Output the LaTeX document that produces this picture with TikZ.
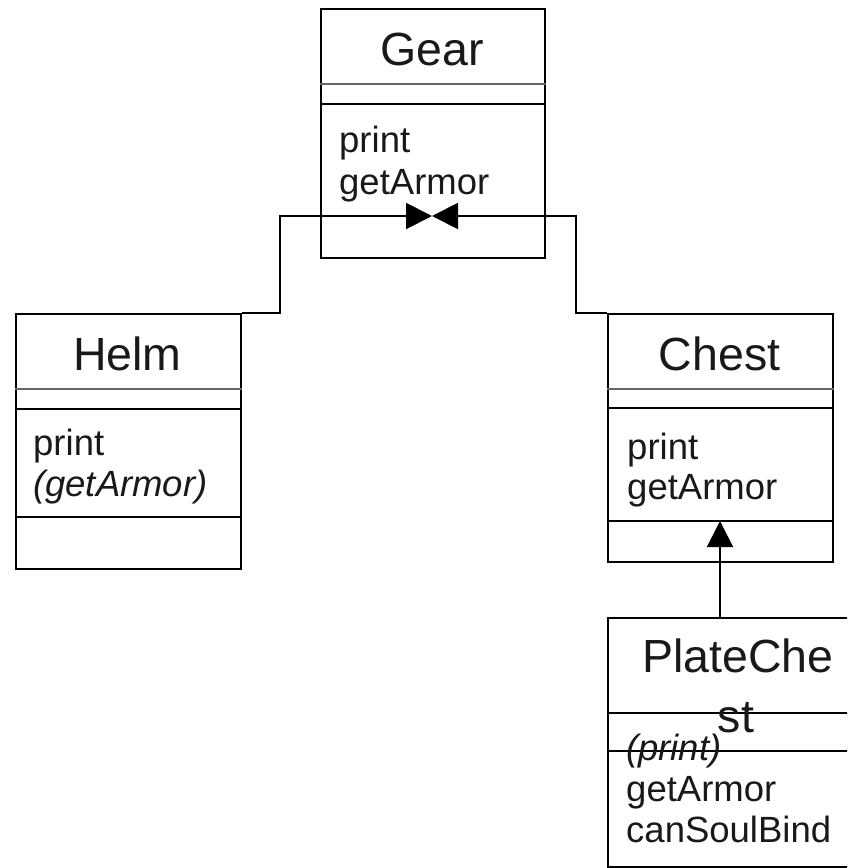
\documentclass[tikz,border=0pt]{standalone}
\usepackage{fontspec}
\setmainfont{Liberation Sans}
\usetikzlibrary{arrows.meta,calc}
\begin{document}
\begin{tikzpicture}[x=1pt,y=-1pt,
  classbox/.style={draw=black,line width=2pt,inner sep=0pt,anchor=north west},
  sepline/.style={draw=black!60,line width=1.6pt},
  divline/.style={draw=black,line width=2pt},
  title/.style={inner sep=0pt,anchor=base,font=\fontsize{46.5}{54}\selectfont,text=black!90},
  member/.style={inner sep=0pt,anchor=base west,font=\fontsize{36.5}{42}\selectfont,text=black!90},
  link/.style={draw=black,line width=2pt},
  tip/.style={-{Triangle[length=26pt,width=26pt]}}]
\useasboundingbox (0,0) rectangle (847,868);
\begin{scope}
\clip (0,0) rectangle (847,868);

% ---- Gear ----
\node[classbox,minimum width=224pt,minimum height=249pt] (gear) at (320,8) {};
\draw[sepline] ($(gear.north west)+(0,76)$) -- ($(gear.north east)+(0,76)$);
\draw[divline] ($(gear.north west)+(0,96)$) -- ($(gear.north east)+(0,96)$);
\node[title] (gearname) at (432,65) {Gear};
\node[member] (gearm1) at (339,152) {print};
\node[member] (gearm2) at (339,194) {getArmor};

% ---- Helm ----
\node[classbox,minimum width=225pt,minimum height=255pt] (helm) at (15,313) {};
\draw[sepline] ($(helm.north west)+(0,76)$) -- ($(helm.north east)+(0,76)$);
\draw[divline] ($(helm.north west)+(0,96)$) -- ($(helm.north east)+(0,96)$);
\draw[divline] ($(helm.north west)+(0,204)$) -- ($(helm.north east)+(0,204)$);
\node[title] (helmname) at (127.5,370) {Helm};
\node[member] (helmm1) at (33,455) {print};
\node[member] (helmm2) at (33,496) {\itshape(getArmor)};

% ---- Chest ----
\node[classbox,minimum width=225pt,minimum height=248pt] (chest) at (607,313) {};
\draw[sepline] ($(chest.north west)+(0,76)$) -- ($(chest.north east)+(0,76)$);
\draw[divline] ($(chest.north west)+(0,95)$) -- ($(chest.north east)+(0,95)$);
\draw[divline] ($(chest.north west)+(0,208)$) -- ($(chest.north east)+(0,208)$);
\node[title] (chestname) at (719.5,370) {Chest};
\node[member] (chestm1) at (627,459) {print};
\node[member] (chestm2) at (627,499) {getArmor};

% ---- PlateChest ----
\node[classbox,minimum width=262pt,minimum height=249pt] (plate) at (607,617) {};
\draw[divline] ($(plate.north west)+(0,96)$) -- ($(plate.north east)+(0,96)$);
\draw[divline] ($(plate.north west)+(0,134)$) -- ($(plate.north east)+(0,134)$);
\node[title] (platename1) at (738,672) {PlateChe};
\node[title] (platename2) at (736,732) {st};
\node[member] (platem1) at (626,760) {\itshape(print)};
\node[member] (platem2) at (626,801) {getArmor};
\node[member] (platem3) at (626,842) {canSoulBind};

% ---- connectors ----
\coordinate (gearjoin) at (432,216);
\coordinate (helmbend) at (280,313);
\coordinate (chestbend) at (576,313);
\draw[link,tip] (helm.north east) -- (helmbend) |- (gearjoin);
\draw[link,tip] (chest.north west) -- (chestbend) |- (gearjoin);

\coordinate (chesttip) at (720,521);
\coordinate (platetop) at (720,617);
\draw[link,line width=1.8pt,tip] (platetop) -- (chesttip);
\end{scope}
\end{tikzpicture}
\end{document}
